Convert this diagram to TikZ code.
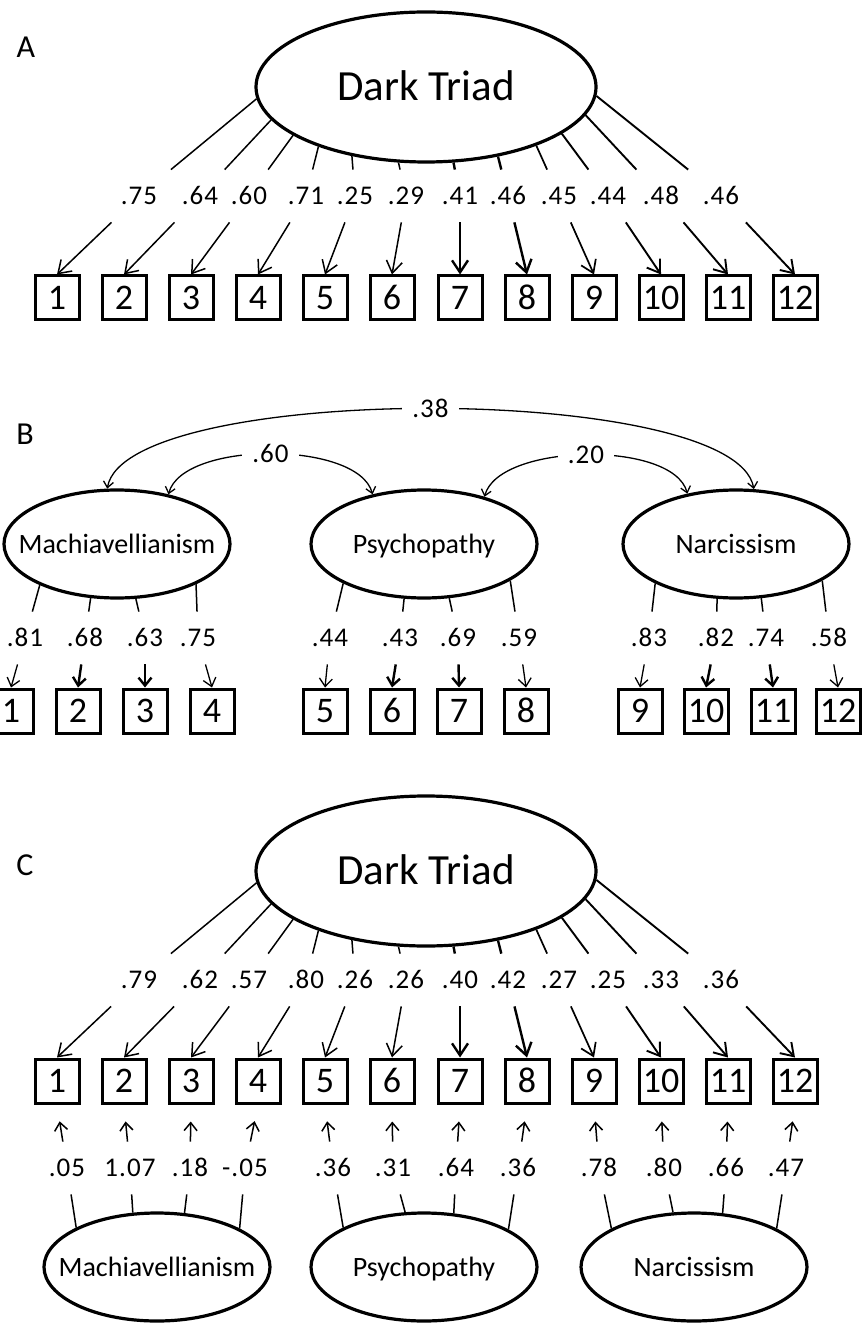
\documentclass[tikz,border=0pt]{standalone}
\usepackage{fontspec}
\setmainfont{Carlito}
\newfontfamily\numfont[LetterSpace=4]{Carlito}
\usetikzlibrary{arrows.meta,shapes.geometric}
\newcommand{\ctext}[1]{\makebox[0pt]{#1}}

\begin{document}
\begin{tikzpicture}[x=0.5pt,y=0.5pt,
    lat/.style={draw, ellipse, line width=1.6pt, inner sep=0pt, text depth=0pt},
    big/.style={lat, minimum width=170pt, minimum height=75pt, text height=13.8pt, font=\fontsize{21.5}{24}\selectfont},
    sml/.style={lat, minimum width=113pt, minimum height=54pt, text height=9pt, font=\fontsize{14}{16}\selectfont},
    it/.style={draw, line width=1.5pt, minimum size=22pt, inner sep=0pt, text height=11.4pt, text depth=0pt,
      font=\fontsize{18}{20}\selectfont},
    lb/.style={minimum width=33pt, minimum height=26pt, inner sep=0pt, text height=8.5pt, text depth=0pt,
      font=\fontsize{13.5}{15}\selectfont\numfont},
    cl/.style={fill=white, inner sep=2pt, inner xsep=5pt, text height=8.5pt, text depth=0pt,
      font=\fontsize{13.5}{15}\selectfont\numfont},
    ld/.style={line width=0.75pt},
    ar/.style={-{Straight Barb[length=6pt,width=8pt]}},
    sa/.style={-{Straight Barb[length=4pt,width=6.5pt]}},
    cr/.style={line width=0.65pt, {Straight Barb[length=3pt,width=5pt]}-{Straight Barb[length=3pt,width=5pt]}},
    pn/.style={font=\fontsize{16}{18}\selectfont}
  ]
  \useasboundingbox (0,0) rectangle (862,-1325);

  % A
  \node[pn] (tA) at (26,-47) {A};
  \node[big] (dta) at (426,-87) {Dark Triad};
  \foreach \x [count=\i] in {57,124,191,258,325,392,460,527,594,661,728,795}
    \node[it] (a\i) at (\x,-298) {\i};
  \foreach \t/\x/\val/\w [count=\i] in {184/139/.75/0.75pt, 192.8/200/.64/0.75pt,
      200.4/249/.60/0.75pt, 209.8/306/.71/0.75pt, 223.8/355/.25/0.75pt, 250.6/406/.29/0.75pt,
      290.7/460/.41/1.2pt, 316.7/508/.46/1.2pt, 332/559/.45/0.85pt, 341.7/608/.44/0.95pt,
      350.4/661/.48/0.95pt, 357.5/721/.46/0.95pt} {
    \node[lb] (wa\i) at (\x,-196) {\val};
    \draw[ld, line width=\w] (dta.\t) -- (wa\i);
    \draw[ld, ar, line width=\w] (wa\i) -- (a\i.north);
  }

  % B
  \node[pn] (tB) at (25,-434) {B};
  \node[sml] (mb) at (117,-544) {\ctext{Machiavellianism}};
  \node[sml] (pb) at (424,-544) {\ctext{Psychopathy}};
  \node[sml] (nb) at (736,-544) {\ctext{Narcissism}};
  \foreach \x [count=\i] in {11,78,145,212,325,392,459,526,640,706,773,838}
    \node[it] (b\i) at (\x,-711) {\i};
  \foreach \e/\t/\x/\val/\w [count=\i] in {mb/208.7/25/.81/0.65pt, mb/244.7/85/.68/1.2pt,
      mb/289/145/.63/1.2pt, mb/333.4/198/.75/0.65pt, pb/206/330/.44/0.65pt, pb/250/400/.43/1.2pt,
      pb/295/458/.69/1.2pt, pb/337/519/.59/0.65pt, nb/206/649/.83/0.65pt, nb/251/716/.82/1.2pt,
      nb/295/766/.74/1.2pt, nb/337/829/.58/0.65pt} {
    \node[lb] (wb\i) at (\x,-638) {\val};
    \draw[ld] (\e.\t) -- (wb\i);
    \draw[ld, sa, line width=\w] (wb\i) -- (b\i.north);
  }
  \draw[cr] (mb.100) to[out=80, in=100, looseness=0.43] node[cl] (r38) {.38} (nb.72);
  \draw[cr] (mb.44) to[out=75, in=105, looseness=0.7] node[cl] (r60) {.60} (pb.136);
  \draw[cr] (pb.38) to[out=75, in=105, looseness=0.7] node[cl] (r20) {.20} (nb.134);

  % C
  \node[pn] (tC) at (25,-865) {C};
  \node[big] (dtc) at (426,-871) {Dark Triad};
  \foreach \x [count=\i] in {57,124,191,258,325,392,460,527,594,661,728,795}
    \node[it] (c\i) at (\x,-1081) {\i};
  \foreach \t/\x/\val/\w [count=\i] in {184/139/.79/0.75pt, 192.8/200/.62/0.75pt,
      200.4/249/.57/0.75pt, 209.8/306/.80/0.75pt, 223.8/355/.26/0.75pt, 250.6/406/.26/0.75pt,
      290.7/460/.40/1.2pt, 316.7/508/.42/1.2pt, 332/559/.27/0.85pt, 341.7/608/.25/0.95pt,
      350.4/661/.33/0.95pt, 357.5/721/.36/0.95pt} {
    \node[lb] (wc\i) at (\x,-980) {\val};
    \draw[ld, line width=\w] (dtc.\t) -- (wc\i);
    \draw[ld, ar, line width=\w] (wc\i) -- (c\i.north);
  }
  \node[sml] (mc) at (157,-1267) {\ctext{Machiavellianism}};
  \node[sml] (pc) at (424,-1267) {\ctext{Psychopathy}};
  \node[sml] (nc) at (694,-1267) {\ctext{Narcissism}};
  \foreach \e/\t/\x/\val [count=\i] in {mc/154.3/67/.05, mc/114.4/130/1.07, mc/63.7/190/.18,
      mc/25.1/245/-.05, pc/154.9/333/.36, pc/109.7/393/.31, pc/61/456/.64, pc/24.6/518/.36,
      nc/155/599/.78, nc/111.6/664/.80, nc/62.6/726/.66, nc/25.7/786/.47} {
    \node[lb] (wd\i) at (\x,-1168) {\val};
    \draw[ld] (\e.\t) -- (wd\i);
    \draw[ld, sa, shorten >=8.5pt] (wd\i) -- (c\i.south);
  }
\end{tikzpicture}
\end{document}
